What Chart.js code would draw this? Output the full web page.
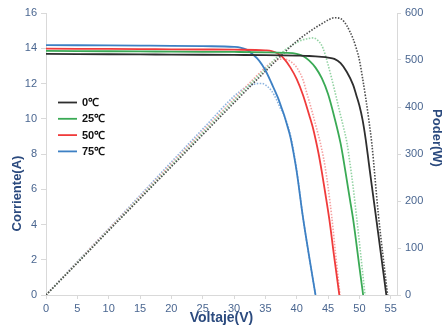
<!DOCTYPE html>
<html>
<head>
<meta charset="utf-8">
<script src="https://cdn.jsdelivr.net/npm/chart.js@4"></script>
<style>
html, body { margin: 0; padding: 0; background: #fff; overflow: hidden; }
#wrap { position: relative; width: 442px; height: 335px; }
</style>
</head>
<body>
<div id="wrap"><canvas id="chart"></canvas></div>
<script>
// Temperatures (legend)
var legendLabels = ['0\u2103', '25\u2103', '50\u2103', '75\u2103'];

// Tick values
var xTicks = [0, 5, 10, 15, 20, 25, 30, 35, 40, 45, 50, 55];
var ampTicks = [0, 2, 4, 6, 8, 10, 12, 14, 16];
var wattTicks = [0, 100, 200, 300, 400, 500, 600];

// I-V curves (V, A)
var voltI0 = [0, 5, 10, 15, 20, 25, 30, 35, 40, 42, 44, 45, 46, 47, 48, 49, 49.5, 50, 50.5, 51, 51.5, 52, 53, 54.3];
var ampI0 = [13.68, 13.67, 13.66, 13.65, 13.64, 13.63, 13.62, 13.61, 13.58, 13.56, 13.51, 13.47, 13.40, 13.15, 12.65, 11.92, 11.35, 10.75, 9.95, 8.85, 7.5, 6.15, 3.5, 0];

var voltI25 = [0, 5, 10, 15, 20, 25, 30, 35, 38, 40, 41, 42, 43, 44, 45, 46, 47, 47.5, 48, 48.5, 49, 50, 50.6];
var ampI25 = [13.85, 13.84, 13.83, 13.82, 13.81, 13.80, 13.79, 13.77, 13.74, 13.68, 13.56, 13.30, 12.90, 12.30, 11.40, 10.10, 8.60, 7.60, 6.50, 5.40, 4.30, 1.60, 0];

var voltI50 = [0, 5, 10, 15, 20, 25, 30, 35, 36, 37, 38, 39, 40, 41, 42, 42.5, 43, 43.5, 44, 44.5, 45.2, 46, 46.8];
var ampI50 = [13.98, 13.97, 13.96, 13.95, 13.94, 13.93, 13.92, 13.88, 13.84, 13.70, 13.40, 12.90, 12.25, 11.35, 10.20, 9.60, 8.85, 8.00, 7.00, 5.90, 4.30, 2.10, 0];

var voltI75 = [0, 5, 10, 15, 20, 25, 30, 31, 32, 33, 34, 35, 36, 37, 37.5, 38, 38.5, 39, 39.5, 40, 41, 42, 43];
var ampI75 = [14.18, 14.17, 14.16, 14.15, 14.14, 14.12, 14.08, 14.04, 13.92, 13.65, 13.30, 12.75, 12.00, 11.20, 10.70, 10.20, 9.60, 8.95, 8.05, 7.00, 4.40, 2.15, 0];

// P-V curves (V, W)
var voltP0 = [0, 5, 10, 15, 20, 25, 30, 35, 40, 42, 43, 44, 45, 46, 47, 48, 48.5, 49, 49.5, 50, 50.5, 51, 51.5, 52, 53, 54.5];
var wattP0 = [0, 68, 137, 205, 273, 341, 409, 476, 540, 560, 569, 577, 585, 590, 588, 573, 560, 545, 525, 500, 462, 420, 373, 320, 175, 0];

var voltP25 = [0, 5, 10, 15, 20, 25, 30, 35, 38, 40, 41, 42, 42.6, 43.5, 44.2, 45, 45.5, 46, 46.5, 47, 47.5, 48, 48.5, 49, 49.5, 50, 50.9];
var wattP25 = [0, 69, 138, 207, 276, 345, 414, 481, 520, 537, 543, 546, 547, 540, 525, 490, 465, 438, 410, 382, 355, 325, 280, 230, 172, 112, 0];

var voltP50 = [0, 5, 10, 15, 20, 25, 30, 35, 36, 37, 38, 39, 40, 41, 41.6, 42, 42.5, 43, 43.5, 44, 44.5, 45, 45.6, 46.2, 46.9];
var wattP50 = [0, 70, 140, 209, 279, 348, 417, 484, 495, 501, 502, 497, 484, 458, 430, 412, 388, 363, 338, 310, 275, 230, 165, 88, 0];

var voltP75 = [0, 5, 10, 15, 20, 25, 30, 31, 32, 33, 34, 34.5, 35, 36, 36.8, 37.3, 38, 39, 40, 41, 42, 43];
var wattP75 = [0, 71, 141, 212, 283, 353, 423, 434, 443, 448, 450, 450, 447, 434, 415, 400, 382, 340, 265, 165, 80, 0];

var solidColors = ['#2e2e2e', '#3aaa55', '#f03b3b', '#3d80c4'];
var dottedColors = ['#4d4d4d', '#93d3a3', '#f5a0a0', '#8db4df'];

var tickColor = '#4a6690';
var titleColor = '#2b4a7e';
var axisColor = '#d9d9d9';
var fontFamily = '"Liberation Sans", Arial, sans-serif';

function points(xs, ys) {
    return xs.map(function(x, i) { return { x: x, y: ys[i] }; });
}

var currentSets = [[voltI0, ampI0], [voltI25, ampI25], [voltI50, ampI50], [voltI75, ampI75]];
var powerSets = [[voltP0, wattP0], [voltP25, wattP25], [voltP50, wattP50], [voltP75, wattP75]];

var datasets = [];
currentSets.forEach(function(s, i) {
    datasets.push({
        label: legendLabels[i],
        data: points(s[0], s[1]),
        yAxisID: 'y',
        borderColor: solidColors[i],
        borderWidth: 1.8,
        pointRadius: 0,
        cubicInterpolationMode: 'monotone',
        fill: false
    });
});
powerSets.forEach(function(s, i) {
    datasets.push({
        label: legendLabels[i] + ' P',
        data: points(s[0], s[1]),
        yAxisID: 'y1',
        borderColor: dottedColors[i],
        borderWidth: 1.6,
        borderDash: [1.5, 1.5],
        pointRadius: 0,
        cubicInterpolationMode: 'monotone',
        fill: false
    });
});

function fixedTicks(values) {
    return function(scale) {
        scale.ticks = values.map(function(v) { return { value: v }; });
    };
}

// Legend and side titles drawn inside the canvas
var extras = {
    id: 'extras',
    afterDraw: function(chart) {
        var ctx = chart.ctx;
        ctx.save();
        legendLabels.forEach(function(label, i) {
            var y = 102.5 + i * 16.3;
            ctx.strokeStyle = solidColors[i];
            ctx.lineWidth = 1.8;
            ctx.beginPath();
            ctx.moveTo(58, y);
            ctx.lineTo(77, y);
            ctx.stroke();
            ctx.fillStyle = '#111';
            ctx.font = 'bold 11px ' + fontFamily;
            ctx.textAlign = 'left';
            ctx.textBaseline = 'middle';
            ctx.fillText(label, 82, y + 0.5);
        });

        ctx.fillStyle = titleColor;
        ctx.font = 'bold 13px ' + fontFamily;
        ctx.textAlign = 'center';
        ctx.textBaseline = 'middle';

        ctx.save();
        ctx.translate(17.5, 193.5);
        ctx.rotate(-Math.PI / 2);
        ctx.fillText('Corriente(A)', 0, 0);
        ctx.restore();

        ctx.save();
        ctx.translate(437, 138);
        ctx.rotate(Math.PI / 2);
        ctx.fillText('Poder(W)', 0, 0);
        ctx.restore();

        ctx.restore();
    }
};

var tickFont = { family: fontFamily, size: 11 };

new Chart(document.getElementById('chart').getContext('2d'), {
    type: 'line',
    data: { datasets: datasets },
    plugins: [extras],
    options: {
        responsive: true,
        maintainAspectRatio: false,
        animation: false,
        devicePixelRatio: 1,
        layout: { padding: { top: 13, left: 0, right: 0, bottom: 0 } },
        plugins: {
            legend: { display: false },
            tooltip: { enabled: false }
        },
        scales: {
            x: {
                type: 'linear',
                min: 0,
                max: 56,
                afterBuildTicks: fixedTicks(xTicks),
                afterFit: function(scale) { scale.height = 40; },
                grid: { drawOnChartArea: false, color: axisColor, tickLength: 4 },
                border: { color: axisColor },
                ticks: { color: tickColor, font: tickFont, padding: 3, maxRotation: 0 },
                title: {
                    display: true,
                    text: 'Voltaje(V)',
                    color: titleColor,
                    font: { family: fontFamily, size: 14, weight: 'bold' },
                    padding: { top: 2, bottom: 8 }
                }
            },
            y: {
                position: 'left',
                min: 0,
                max: 16,
                afterBuildTicks: fixedTicks(ampTicks),
                afterFit: function(scale) { scale.width = 46; },
                grid: { drawOnChartArea: false, color: axisColor, tickLength: 5 },
                border: { color: axisColor },
                ticks: { color: tickColor, font: tickFont, padding: 4 }
            },
            y1: {
                position: 'right',
                min: 0,
                max: 600,
                afterBuildTicks: fixedTicks(wattTicks),
                afterFit: function(scale) { scale.width = 45; },
                grid: { drawOnChartArea: false, color: axisColor, tickLength: 4 },
                border: { color: axisColor },
                ticks: { color: tickColor, font: tickFont, padding: 4 }
            }
        }
    }
});
</script>
</body>
</html>
